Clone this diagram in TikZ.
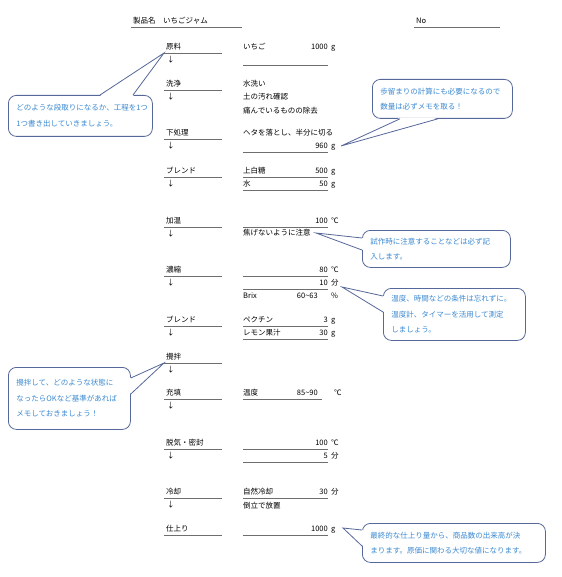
\documentclass[tikz,border=0pt]{standalone}
\usepackage{fontspec}
\setmainfont{Noto Sans CJK JP}
\usetikzlibrary{positioning,calc}
\definecolor{notec}{HTML}{56679A}
\definecolor{notetx}{HTML}{3C8AD2}
\definecolor{rulec}{HTML}{6E6E6E}
\tikzset{
  txt/.style={anchor=west,inner sep=0pt,font=\fontsize{7.5}{9}\selectfont,text height=6.5pt,text depth=1.5pt},
  val/.style={txt,anchor=east},
  rule/.style={draw=rulec,line width=0.7pt},
  note/.style={draw=notec,fill=white,line width=0.8pt,rounded corners=8pt,anchor=north west,
    inner xsep=8pt,align=left,text=notetx,font=\fontsize{7.5}{15.5}\selectfont},
  tail/.style={draw=notec,line width=0.8pt},
}
\newcommand*{\amt}[4]{\node[val] (#1) at (328,#2) {#3}; \node[txt] (#1u) at (331,#2) {#4};}

\begin{document}
\begin{tikzpicture}[x=1pt,y=-1pt]
\useasboundingbox (0,0) rectangle (561,577);
% header
\node[txt] (name) at (133,21) {製品名　いちごジャム};
\node[txt] (no) at (416,21) {No};
\draw[rule] (131,27) -- (242,27);
\draw[rule] (414,27) -- (500,27);

% process steps
\foreach \t/\y [count=\i] in {原料/47,洗浄/84,下処理/133,ブレンド/171,加温/221,濃縮/270,ブレンド/320,攪拌/357,充填/393,脱気・密封/443,冷却/492,仕上り/529}{
  \node[txt] (s\i) at (166,\y) {\t};
  \draw[rule] (164,\y+6) -- (222,\y+6);
  \ifnum\i<12 \node[txt] (a\i) at (167,\y+13) {↓}; \fi
}

% details
\node[txt] (mat) at (243,47) {いちご}; \amt{matq}{47}{1000}{g}
\draw[rule] (243,65) -- (328,65);
\node[txt] (wash1) at (243,84) {水洗い};
\node[txt] (wash2) at (243,97) {土の汚れ確認};
\node[txt] (wash3) at (243,111) {痛んでいるものの除去};
\node[txt] (prep) at (243,133) {ヘタを落とし、半分に切る};
\amt{prepq}{146}{960}{g}
\draw[rule] (243,152) -- (328,152);
\node[txt] (sugar) at (243,171) {上白糖}; \amt{sugarq}{171}{500}{g}
\draw[rule] (243,177) -- (328,177);
\node[txt] (water) at (243,184) {水}; \amt{waterq}{184}{50}{g}
\draw[rule] (243,190) -- (328,190);
\amt{heatq}{221}{100}{℃}
\draw[rule] (243,227) -- (328,227);
\node[txt] (heatn) at (243,233) {焦げないように注意};
\amt{concq}{270}{80}{℃}
\draw[rule] (243,276) -- (328,276);
\amt{conct}{283}{10}{分}
\draw[rule] (243,289) -- (328,289);
\node[txt] (brix) at (243,296) {Brix};
\node[val] (brixq) at (318,296) {60\textasciitilde63};
\node[txt] (brixu) at (331,296) {\%};
\node[txt] (pec) at (243,320) {ペクチン}; \amt{pecq}{320}{3}{g}
\draw[rule] (243,326) -- (328,326);
\node[txt] (lemon) at (243,333) {レモン果汁}; \amt{lemonq}{333}{30}{g}
\draw[rule] (243,339) -- (328,339);
\node[txt] (fillt) at (243,393) {温度};
\node[val] (fillq) at (318,393) {85\textasciitilde90};
\node[txt] (fillu) at (334,393) {℃};
\draw[rule] (243,399) -- (322,399);
\amt{sealq}{443}{100}{℃}
\draw[rule] (243,449) -- (328,449);
\amt{sealt}{456}{5}{分}
\draw[rule] (243,462) -- (328,462);
\node[txt] (cool1) at (243,492) {自然冷却}; \amt{coolq}{492}{30}{分}
\draw[rule] (243,498) -- (328,498);
\node[txt] (cool2) at (243,506) {倒立で放置};
\amt{finq}{529}{1000}{g}
\draw[rule] (243,535) -- (328,535);

% callouts
\node[note,text width=128pt,minimum height=41pt] (n1) at (8,95)
  {どのような段取りになるか、工程を1つ\\1つ書き出していきましょう。};
\coordinate (t1) at (164,53);
\fill[white] ($(n1.north west)+(92,1)$) -- (t1) -- ($(n1.north west)+(125,1)$) -- cycle;
\draw[tail] ($(n1.north west)+(92,0)$) -- (t1) -- ($(n1.north west)+(125,0)$);

\node[note,text width=124pt,minimum height=39pt] (n2) at (372,79)
  {歩留まりの計算にも必要になるので\\数量は必ずメモを取る！};
\coordinate (t2) at (341,146);
\fill[white] ($(n2.south west)+(28,-1)$) -- (t2) -- ($(n2.south west)+(66,-1)$) -- cycle;
\draw[tail] ($(n2.south west)+(28,0)$) -- (t2) -- ($(n2.south west)+(66,0)$);

\node[note,text width=132pt,minimum height=37pt] (n3) at (362,230)
  {試作時に注意することなどは必ず記\\入します。};
\coordinate (t3) at (316,233);
\fill[white] ($(n3.north west)+(1,8)$) -- (t3) -- ($(n3.north west)+(1,20)$) -- cycle;
\draw[tail] ($(n3.north west)+(0,8)$) -- (t3) -- ($(n3.north west)+(0,20)$);

\node[note,text width=126pt,minimum height=52pt] (n4) at (383,288)
  {温度、時間などの条件は忘れずに。\\温度計、タイマーを活用して測定\\しましょう。};
\coordinate (t4) at (342,287);
\fill[white] ($(n4.north west)+(1,8)$) -- (t4) -- ($(n4.north west)+(1,24)$) -- cycle;
\draw[tail] ($(n4.north west)+(0,8)$) -- (t4) -- ($(n4.north west)+(0,24)$);

\node[note,text width=106pt,minimum height=62pt] (n5) at (8,367)
  {攪拌して、どのような状態に\\なったらOKなど基準があれば\\メモしておきましょう！};
\coordinate (t5) at (164,363);
\fill[white] ($(n5.north east)+(-1,11)$) -- (t5) -- ($(n5.north east)+(-1,27)$) -- cycle;
\draw[tail] ($(n5.north east)+(0,11)$) -- (t5) -- ($(n5.north east)+(0,27)$);

\node[note,text width=167pt,minimum height=39pt] (n6) at (362,523)
  {最終的な仕上り量から、商品数の出来高が決\\まります。原価に関わる大切な値になります。};
\coordinate (t6) at (343,528);
\fill[white] ($(n6.north west)+(1,7)$) -- (t6) -- ($(n6.north west)+(1,23)$) -- cycle;
\draw[tail] ($(n6.north west)+(0,7)$) -- (t6) -- ($(n6.north west)+(0,23)$);
\end{tikzpicture}
\end{document}
